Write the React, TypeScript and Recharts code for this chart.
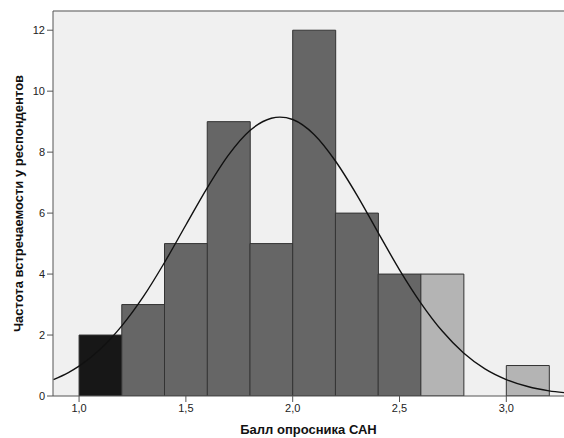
import { ComposedChart, Bar, Line, XAxis, YAxis, CartesianGrid, ReferenceLine, Cell } from 'recharts';

// bin centers (bin width 0,2) and counts
const binCenters = [1.1, 1.3, 1.5, 1.7, 1.9, 2.1, 2.3, 2.5, 2.7, 2.9, 3.1];
const counts = [2, 3, 5, 9, 5, 12, 6, 4, 4, 0, 1];
const binGroup = ['low', 'mid', 'mid', 'mid', 'mid', 'mid', 'mid', 'mid', 'high', 'high', 'high'];

// normal curve
const curveX = [0.88, 0.95, 1.0, 1.1, 1.2, 1.3, 1.4, 1.5, 1.6, 1.7, 1.8, 1.9, 1.94, 2.0, 2.1, 2.2, 2.3, 2.4, 2.5, 2.6, 2.7, 2.8, 2.9, 3.0, 3.1, 3.2, 3.27];
const curveY = [0.54, 0.77, 0.98, 1.54, 2.3, 3.25, 4.38, 5.61, 6.83, 7.91, 8.71, 9.11, 9.15, 9.07, 8.58, 7.71, 6.6, 5.36, 4.14, 3.05, 2.13, 1.41, 0.89, 0.54, 0.31, 0.17, 0.11];

const xTicks = [1.0, 1.5, 2.0, 2.5, 3.0];
const yTicks = [0, 2, 4, 6, 8, 10, 12];

const groupColors: Record<string, string> = {
    low: '#171717',
    mid: '#666666',
    high: '#b4b4b4',
};

const bars = binCenters.map((x, i) => ({ x, count: counts[i], group: binGroup[i] }));
const curve = curveX.map((x, i) => ({ x, y: curveY[i] }));

const X_DOMAIN = [0.878, 3.27];
const Y_DOMAIN = [0, 12.63];
const fmt = (v: number) => v.toFixed(1).replace('.', ',');

export default function App() {
    return (
        <div style={{ position: 'absolute', left: 0, top: 0, width: 564, height: 438, background: '#fff' }}>
            <ComposedChart
                width={564}
                height={438}
                data={bars}
                margin={{ top: 11, right: 0, left: 0, bottom: 0 }}
                barCategoryGap={0}
                barGap={0}
                style={{ fontFamily: '"Liberation Sans", Arial, sans-serif' }}
            >
                <CartesianGrid xAxisId="bins" fill="#f0f0f0" horizontal={false} vertical={false} />
                <XAxis
                    xAxisId="bins"
                    dataKey="x"
                    type="number"
                    domain={X_DOMAIN}
                    allowDataOverflow
                    ticks={xTicks}
                    tickFormatter={fmt}
                    height={42}
                    stroke="#555"
                    tickSize={6}
                    tick={{ fill: '#222', fontSize: 11 }}
                    label={{ value: 'Балл опросника САН', position: 'insideBottom', offset: 4, fill: '#111', fontSize: 13, fontWeight: 'bold' }}
                />
                <XAxis xAxisId="curve" dataKey="x" type="number" domain={X_DOMAIN} allowDataOverflow hide />
                <YAxis
                    type="number"
                    domain={Y_DOMAIN}
                    allowDataOverflow
                    ticks={yTicks}
                    width={53}
                    stroke="#555"
                    tickSize={6}
                    tick={{ fill: '#222', fontSize: 11 }}
                    label={{ value: 'Частота встречаемости у респондентов', angle: -90, position: 'insideLeft', offset: 18, fill: '#111', fontSize: 13, fontWeight: 'bold', style: { textAnchor: 'middle' } }}
                />
                <ReferenceLine xAxisId="bins" y={Y_DOMAIN[1]} stroke="#888" strokeWidth={1.5} />
                <Bar xAxisId="bins" dataKey="count" stroke="#333" strokeWidth={1} isAnimationActive={false}>
                    {bars.map((b, i) => (
                        <Cell key={i} fill={groupColors[b.group]} />
                    ))}
                </Bar>
                <Line
                    xAxisId="curve"
                    data={curve}
                    dataKey="y"
                    type="monotone"
                    stroke="#111"
                    strokeWidth={1.4}
                    dot={false}
                    activeDot={false}
                    isAnimationActive={false}
                />
            </ComposedChart>
        </div>
    );
}
